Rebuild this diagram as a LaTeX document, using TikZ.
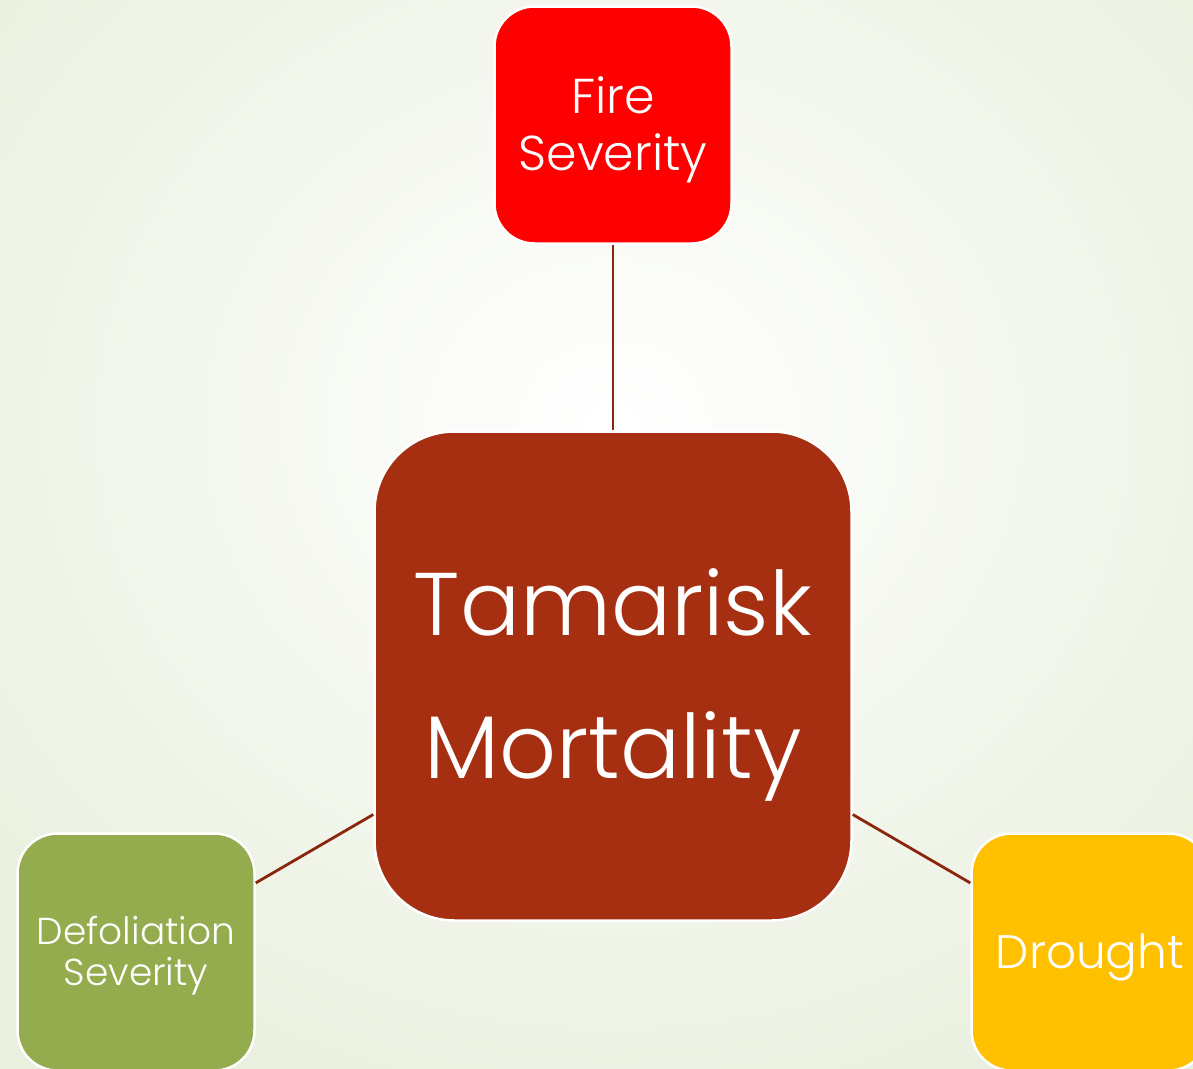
\documentclass[tikz,border=0pt]{standalone}
\usepackage{fontspec}
\setmainfont{Poppins}[UprightFont=* Light]
\usepackage{tikz}
\usetikzlibrary{positioning}
\definecolor{bgedge}{RGB}{234,240,223}
\definecolor{brick}{RGB}{165,47,16}
\definecolor{firered}{RGB}{255,0,0}
\definecolor{olive}{RGB}{148,171,78}
\definecolor{amber}{RGB}{255,192,0}
\definecolor{linkbrown}{RGB}{138,38,14}
\newcommand{\lift}[1]{\rule{0pt}{#1}}

\begin{document}
\begin{tikzpicture}[x=1pt,y=-1pt,
  tile/.style={draw=white,line width=2.5pt,rounded corners=40pt,text=white,align=center,
    minimum width=237pt,minimum height=237pt,font=\fontsize{49}{57}\selectfont},
  link/.style={linkbrown,line width=2.8pt}]
  \useasboundingbox (0,0) rectangle (1193,1068);
  \clip (0,0) rectangle (1193,1068);
  \fill[inner color=white,outer color=bgedge] (-200,-300) rectangle (1426,1150);

  \node[draw=white,line width=2.5pt,rounded corners=80pt,fill=brick,text=white,align=center,
    minimum width=477pt,minimum height=489pt,font=\fontsize{89}{143}\selectfont] (TM) at (613,676)
    {\lift{84pt}Tamarisk\\Mortality};
  \node[tile,fill=firered] (FS) at (613,125) {\lift{46pt}Fire\\Severity};
  \node[tile,fill=olive,font=\fontsize{37.5}{41}\selectfont] (DS) at (136,952)
    {\lift{36pt}Defoliation\\Severity};
  \node[tile,fill=amber,font=\fontsize{47}{57}\selectfont] (DR) at (1090,952) {\lift{45pt}Drought};

  \draw[link] (FS) -- (TM);
  \draw[link] (TM) -- (DS);
  \draw[link] (TM) -- (DR);
\end{tikzpicture}
\end{document}
